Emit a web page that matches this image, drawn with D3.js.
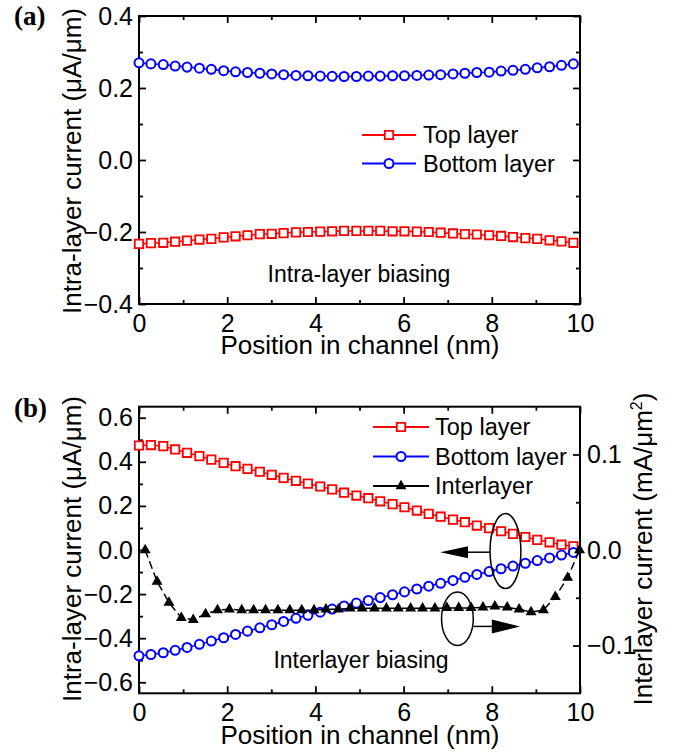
<!DOCTYPE html>
<html>
<head>
<meta charset="utf-8">
<script src="https://cdn.jsdelivr.net/npm/d3@7/dist/d3.min.js"></script>
<style>
  body { margin: 0; background: #fff; }
  svg text { font-family: "Liberation Sans", Arial, sans-serif; fill: #000; }
</style>
</head>
<body>
<svg id="chart" width="685" height="754"></svg>
<script>
// positions along the channel (nm): grid nodes and the mid points between them
var nodeX = [0, 0.27, 0.55, 0.82, 1.09, 1.37, 1.64, 1.92, 2.19, 2.46, 2.74, 3.01, 3.28,
  3.56, 3.83, 4.11, 4.38, 4.65, 4.93, 5.20, 5.47, 5.75, 6.02, 6.30, 6.57, 6.84, 7.12,
  7.39, 7.66, 7.94, 8.21, 8.48, 8.76, 9.03, 9.31, 9.58, 9.85];
var midX = [0.14, 0.41, 0.68, 0.96, 1.23, 1.51, 1.78, 2.05, 2.33, 2.60, 2.87, 3.15, 3.42,
  3.69, 3.97, 4.24, 4.52, 4.79, 5.06, 5.34, 5.61, 5.88, 6.16, 6.43, 6.71, 6.98, 7.25,
  7.53, 7.80, 8.07, 8.35, 8.62, 8.89, 9.17, 9.44, 9.72, 9.99];

// (a) intra-layer biasing, uA/um
var aTop = [-0.233, -0.231, -0.230, -0.227, -0.224, -0.221, -0.219, -0.215, -0.212, -0.209,
  -0.206, -0.205, -0.203, -0.201, -0.200, -0.199, -0.198, -0.197, -0.197, -0.197, -0.197,
  -0.198, -0.198, -0.199, -0.200, -0.202, -0.204, -0.206, -0.207, -0.209, -0.211, -0.214,
  -0.217, -0.219, -0.223, -0.226, -0.230];
var aBottom = [0.270, 0.267, 0.265, 0.261, 0.258, 0.255, 0.252, 0.248, 0.245, 0.243, 0.241,
  0.239, 0.237, 0.235, 0.234, 0.233, 0.2325, 0.232, 0.232, 0.233, 0.233, 0.234, 0.234, 0.235,
  0.236, 0.237, 0.239, 0.241, 0.243, 0.244, 0.247, 0.249, 0.252, 0.256, 0.259, 0.263, 0.267];

// (b) interlayer biasing: intra-layer uA/um (left), interlayer mA/um^2 (right)
var bTop = [0.474, 0.476, 0.471, 0.456, 0.441, 0.426, 0.410, 0.395, 0.380, 0.368, 0.355,
  0.341, 0.327, 0.314, 0.301, 0.288, 0.275, 0.260, 0.247, 0.235, 0.221, 0.208, 0.194, 0.179,
  0.164, 0.151, 0.138, 0.126, 0.111, 0.099, 0.085, 0.073, 0.059, 0.046, 0.035, 0.024, 0.017];
var bBottom = [-0.480, -0.474, -0.466, -0.455, -0.442, -0.428, -0.413, -0.398, -0.383, -0.368,
  -0.353, -0.339, -0.324, -0.310, -0.296, -0.282, -0.268, -0.254, -0.241, -0.229, -0.216,
  -0.203, -0.190, -0.177, -0.164, -0.151, -0.138, -0.124, -0.111, -0.098, -0.085, -0.073,
  -0.060, -0.048, -0.036, -0.023, -0.011];
var bInter = [0.0, -0.033, -0.055, -0.071, -0.073, -0.067, -0.063, -0.062, -0.063, -0.063,
  -0.063, -0.063, -0.063, -0.063, -0.063, -0.062, -0.062, -0.061, -0.061, -0.061, -0.061,
  -0.061, -0.061, -0.061, -0.061, -0.0606, -0.0606, -0.0606, -0.060, -0.059, -0.060, -0.062,
  -0.065, -0.063, -0.049, -0.029, 0.0];

var xTicks = [0, 2, 4, 6, 8, 10], xMinor = [1, 3, 5, 7, 9];
var aTicks = [-0.4, -0.2, 0, 0.2, 0.4], aMinor = [-0.3, -0.1, 0.1, 0.3];
var bTicks = [-0.6, -0.4, -0.2, 0, 0.2, 0.4, 0.6], bMinor = [-0.5, -0.3, -0.1, 0.1, 0.3, 0.5];
var rTicks = [-0.1, 0, 0.1], rMinor = [-0.05, 0.05];

var RED = "#ff0000", BLUE = "#0000ff";
var svg = d3.select("#chart");
var L = 139, R = 580;

function pts(xs, ys) {
  return xs.map(function (x, i) { return { x: x, y: ys[i] }; });
}

function ticks(g, axis, at, values, size, pad, fmt) {
  var a = axis.tickValues(values).tickSize(-size).tickPadding(pad || 0)
    .tickFormat(fmt || "");
  var sel = g.append("g").attr("transform", at).call(a);
  sel.select(".domain").remove();
  sel.selectAll(".tick line").attr("stroke", "#000").attr("stroke-width", 1.8);
  sel.selectAll(".tick text").attr("font-size", 25).attr("fill", "#000");
  sel.attr("font-family", null);
  return sel;
}

function frame(x, y, yMajor, yMinor, rightTicks) {
  var g = svg.append("g");
  var top = y.range()[1], bot = y.range()[0];
  var fmt = d3.format(".1f");
  ticks(g, d3.axisBottom(x), "translate(0," + bot + ")", xTicks, 7, 10, d3.format("d"));
  ticks(g, d3.axisBottom(x), "translate(0," + bot + ")", xMinor, 4);
  ticks(g, d3.axisTop(x), "translate(0," + top + ")", xTicks, 7);
  ticks(g, d3.axisTop(x), "translate(0," + top + ")", xMinor, 4);
  ticks(g, d3.axisLeft(y), "translate(" + L + ",0)", yMajor, 7, 6, fmt);
  ticks(g, d3.axisLeft(y), "translate(" + L + ",0)", yMinor, 4);
  if (rightTicks) {
    rightTicks(g);
  } else {
    ticks(g, d3.axisRight(y), "translate(" + R + ",0)", yMajor, 7);
    ticks(g, d3.axisRight(y), "translate(" + R + ",0)", yMinor, 4);
  }
  g.append("rect")
    .attr("x", L).attr("y", top)
    .attr("width", R - L).attr("height", bot - top)
    .attr("fill", "none").attr("stroke", "#000").attr("stroke-width", 2);
  return g;
}

function series(g, x, y, data, kind, color, dash) {
  var line = d3.line()
    .x(function (d) { return x(d.x); })
    .y(function (d) { return y(d.y); });
  g.append("path").datum(data)
    .attr("d", line).attr("fill", "none")
    .attr("stroke", color).attr("stroke-width", 1.5)
    .attr("stroke-dasharray", dash || null);
  marks(g, data.map(function (d) { return [x(d.x), y(d.y)]; }), kind, color);
}

function marks(g, xy, kind, color) {
  var sel = g.append("g").selectAll("path").data(xy).join("path")
    .attr("transform", function (d) { return "translate(" + d[0] + "," + d[1] + ")"; });
  if (kind === "square") {
    sel.attr("d", "M-4.2,-4.2H4.2V4.2H-4.2Z").attr("fill", "#fff")
      .attr("stroke", color).attr("stroke-width", 1.8);
  } else if (kind === "circle") {
    sel.attr("d", d3.symbol(d3.symbolCircle, 64)).attr("fill", "#fff")
      .attr("stroke", color).attr("stroke-width", 2);
  } else {
    sel.attr("d", d3.symbol(d3.symbolTriangle, 52)).attr("fill", color);
  }
}

function legend(g, rows, x0, x1, tx) {
  rows.forEach(function (r) {
    g.append("line").attr("x1", x0).attr("x2", x1).attr("y1", r.y).attr("y2", r.y)
      .attr("stroke", r.color).attr("stroke-width", 1.8);
    marks(g, [[(x0 + x1) / 2, r.y]], r.kind, r.color);
    g.append("text").attr("x", tx).attr("y", r.y).attr("dy", "0.36em")
      .attr("font-size", 23.5).text(r.label);
  });
}

function yTitle(g, x, cy, text, sup) {
  var t = g.append("text")
    .attr("transform", "translate(" + x + "," + cy + ") rotate(-90)")
    .attr("text-anchor", "middle").attr("font-size", 26).text(text);
  if (sup) {
    t.append("tspan").attr("font-size", 16).attr("dy", -10).text(sup);
    t.append("tspan").attr("dy", 10).text(")");
  }
}

function panelLabel(y, text) {
  svg.append("text").attr("x", 14).attr("y", y)
    .style("font-family", "'Liberation Serif', 'Times New Roman', serif")
    .attr("font-weight", "bold").attr("font-size", 27).text(text);
}

// ---------------- (a) ----------------
var xa = d3.scaleLinear().domain([0, 10]).range([L, R]);
var ya = d3.scaleLinear().domain([-0.4, 0.4]).range([304, 16]);
var ga = frame(xa, ya, aTicks, aMinor);
series(ga, xa, ya, pts(nodeX, aTop), "square", RED);
series(ga, xa, ya, pts(nodeX, aBottom), "circle", BLUE);
legend(ga, [
  { y: 135, label: "Top layer", kind: "square", color: RED },
  { y: 163.5, label: "Bottom layer", kind: "circle", color: BLUE }
], 362, 416, 423);
ga.append("text").attr("x", 359).attr("y", 282).attr("text-anchor", "middle")
  .attr("font-size", 23).text("Intra-layer biasing");
ga.append("text").attr("x", 360).attr("y", 354).attr("text-anchor", "middle")
  .attr("font-size", 26).text("Position in channel (nm)");
yTitle(ga, 81, 161, "Intra-layer current (\u03bcA/\u03bcm)");
panelLabel(25, "(a)");

// ---------------- (b) ----------------
var xb = d3.scaleLinear().domain([0, 10]).range([L, R]);
var yb = d3.scaleLinear().domain([-0.65, 0.65]).range([693.3, 406.7]);
var yr = d3.scaleLinear().domain([-0.15, 0.15]).range([693.3, 406.7]);
var gb = frame(xb, yb, bTicks, bMinor, function (g) {
  ticks(g, d3.axisRight(yr), "translate(" + R + ",0)", rTicks, 7, 7, d3.format(".1f"));
  ticks(g, d3.axisRight(yr), "translate(" + R + ",0)", rMinor, 4);
});
series(gb, xb, yb, pts(nodeX, bTop), "square", RED);
series(gb, xb, yb, pts(nodeX, bBottom), "circle", BLUE);
series(gb, xb, yr, pts(midX, bInter), "triangle", "#000", "8,4");
legend(gb, [
  { y: 427, label: "Top layer", kind: "square", color: RED },
  { y: 456.5, label: "Bottom layer", kind: "circle", color: BLUE },
  { y: 486, label: "Interlayer", kind: "triangle", color: "#000" }
], 373, 429, 435);

// ellipses with arrows pointing to the axis each group belongs to
function pointer(g, cx, cy, rx, ry, from, base, tip, ay, half) {
  g.append("ellipse").attr("cx", cx).attr("cy", cy).attr("rx", rx).attr("ry", ry)
    .attr("fill", "none").attr("stroke", "#000").attr("stroke-width", 1.5);
  g.append("line").attr("x1", from).attr("x2", base).attr("y1", ay).attr("y2", ay)
    .attr("stroke", "#000").attr("stroke-width", 1.5);
  g.append("path")
    .attr("d", "M" + tip + "," + ay + "L" + base + "," + (ay - half) + "L" + base + "," + (ay + half) + "Z")
    .attr("fill", "#000");
}
pointer(gb, xb(8.31), yb(-0.005), xb(8.31) - xb(7.96), yb(-0.17) - yb(0),
  xb(7.96), xb(7.46), xb(6.83), yb(-0.01), 6);
pointer(gb, xb(7.22), yr(-0.072), xb(7.22) - xb(6.86), yr(-0.1) - yr(-0.072),
  xb(7.58), xb(8.0), xb(8.64), yr(-0.08), 7);

gb.append("text").attr("x", 361).attr("y", 668).attr("text-anchor", "middle")
  .attr("font-size", 23).text("Interlayer biasing");
gb.append("text").attr("x", 360).attr("y", 744).attr("text-anchor", "middle")
  .attr("font-size", 26).text("Position in channel (nm)");
yTitle(gb, 81, 549, "Intra-layer current (\u03bcA/\u03bcm)");
yTitle(gb, 652, 549, "Interlayer current (mA/\u03bcm", "2");
panelLabel(417, "(b)");
</script>
</body>
</html>
